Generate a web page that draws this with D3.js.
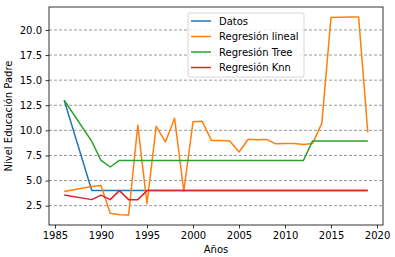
<!DOCTYPE html>
<html>
<head>
<meta charset="utf-8">
<script src="https://cdn.jsdelivr.net/npm/d3@7"></script>
<style>
  body { margin: 0; background: #fff; }
  svg { font-family: "DejaVu Sans", sans-serif; }
</style>
</head>
<body>
<script>
// años con dato
var years = [1986, 1989, 1990, 1991, 1992, 1993, 1994, 1995, 1996, 1997, 1998, 1999,
             2000, 2001, 2002, 2003, 2004, 2005, 2006, 2007, 2008, 2009, 2010, 2011,
             2012, 2013, 2014, 2015, 2016, 2017, 2018, 2019];

var datos = [13.0, 4.0, 4.0, 4.0, 4.0, 4.0, 4.0, 4.0, 4.0, 4.0, 4.0, 4.0,
             4.0, 4.0, 4.0, 4.0, 4.0, 4.0, 4.0, 4.0, 4.0, 4.0, 4.0, 4.0,
             4.0, 4.0, 4.0, 4.0, 4.0, 4.0, 4.0, 4.0];

var lineal = [3.9, 4.4, 4.5, 1.75, 1.6, 1.56, 10.5, 2.7, 10.4, 8.85, 11.2, 3.95,
              10.85, 10.9, 9.0, 9.0, 8.93, 7.85, 9.12, 9.06, 9.1, 8.66, 8.68, 8.7,
              8.6, 8.7, 10.7, 21.25, 21.27, 21.28, 21.3, 9.8];

var tree = [13.0, 8.9, 7.0, 6.35, 7.0, 7.0, 7.0, 7.0, 7.0, 7.0, 7.0, 7.0,
            7.0, 7.0, 7.0, 7.0, 7.0, 7.0, 7.0, 7.0, 7.0, 7.0, 7.0, 7.0,
            7.0, 8.95, 8.95, 8.95, 8.95, 8.95, 8.95, 8.95];

var knn = [3.55, 3.1, 3.55, 3.1, 4.0, 3.1, 3.1, 4.0, 4.0, 4.0, 4.0, 4.0,
           4.0, 4.0, 4.0, 4.0, 4.0, 4.0, 4.0, 4.0, 4.0, 4.0, 4.0, 4.0,
           4.0, 4.0, 4.0, 4.0, 4.0, 4.0, 4.0, 4.0];

var xTicks = [1985, 1990, 1995, 2000, 2005, 2010, 2015, 2020];
var yTicks = [2.5, 5.0, 7.5, 10.0, 12.5, 15.0, 17.5, 20.0];

var seriesNames = ["Datos", "Regresión lineal", "Regresión Tree", "Regresión Knn"];
var seriesData = [datos, lineal, tree, knn];
var colors = ["#1f77b4", "#ff7f0e", "#2ca02c", "#d62728"];

var width = 395, height = 257;
var plotL = 49, plotR = 383, plotT = 7, plotB = 225;

var svg = d3.select("body").append("svg")
  .attr("width", width)
  .attr("height", height);

// márgenes 5% como matplotlib
var xMin = d3.min(years), xMax = d3.max(years);
var xPad = (xMax - xMin) * 0.05;
var allVals = d3.merge(seriesData);
var yMin = d3.min(allVals), yMax = d3.max(allVals);
var yPad = (yMax - yMin) * 0.05;

var xScale = d3.scaleLinear()
  .domain([xMin - xPad, xMax + xPad])
  .range([plotL, plotR]);

var yScale = d3.scaleLinear()
  .domain([yMin - yPad, yMax + yPad])
  .range([plotB, plotT]);

// grilla horizontal
svg.append("g")
  .selectAll("line")
  .data(yTicks)
  .enter()
  .append("line")
  .attr("x1", plotL).attr("x2", plotR)
  .attr("y1", function(d){ return yScale(d); })
  .attr("y2", function(d){ return yScale(d); })
  .attr("stroke", "#808080")
  .attr("stroke-width", 0.8)
  .attr("stroke-dasharray", "3,2");

var line = d3.line()
  .x(function(d){ return xScale(d[0]); })
  .y(function(d){ return yScale(d[1]); });

seriesData.forEach(function(s, i){
  svg.append("path")
    .datum(years.map(function(y, j){ return [y, s[j]]; }))
    .attr("d", line)
    .attr("fill", "none")
    .attr("stroke", colors[i])
    .attr("stroke-width", 1.5)
    .attr("stroke-linejoin", "round");
});

// ejes
var xAxis = d3.axisBottom(xScale)
  .tickValues(xTicks)
  .tickFormat(d3.format("d"))
  .tickSize(3.5)
  .tickPadding(3.5);

var yAxis = d3.axisLeft(yScale)
  .tickValues(yTicks)
  .tickFormat(d3.format(".1f"))
  .tickSize(3.5)
  .tickPadding(3.5);

var gx = svg.append("g")
  .attr("transform", "translate(0," + plotB + ")")
  .call(xAxis);
var gy = svg.append("g")
  .attr("transform", "translate(" + plotL + ",0)")
  .call(yAxis);

[gx, gy].forEach(function(g){
  g.select(".domain").remove();
  g.selectAll("text").attr("font-size", 10).attr("fill", "#000")
    .attr("font-family", "DejaVu Sans");
  g.selectAll(".tick line").attr("stroke", "#000").attr("stroke-width", 0.8);
});

svg.append("rect")
  .attr("x", plotL).attr("y", plotT)
  .attr("width", plotR - plotL).attr("height", plotB - plotT)
  .attr("fill", "none")
  .attr("stroke", "#000")
  .attr("stroke-width", 0.8);

svg.append("text")
  .attr("x", (plotL + plotR) / 2)
  .attr("y", 253)
  .attr("text-anchor", "middle")
  .attr("font-size", 10)
  .text("Años");

svg.append("text")
  .attr("transform", "translate(12," + ((plotT + plotB) / 2) + ") rotate(-90)")
  .attr("text-anchor", "middle")
  .attr("font-size", 10)
  .text("Nivel Educación Padre");

// leyenda
var legend = svg.append("g").attr("transform", "translate(188,13)");
legend.append("rect")
  .attr("width", 116).attr("height", 64)
  .attr("rx", 2)
  .attr("fill", "#fff").attr("fill-opacity", 0.8)
  .attr("stroke", "#cccccc").attr("stroke-width", 0.8);

var items = legend.selectAll("g.item")
  .data(seriesNames)
  .enter()
  .append("g")
  .attr("class", "item")
  .attr("transform", function(d, i){ return "translate(0," + (8 + i * 15.5) + ")"; });

items.append("line")
  .attr("x1", 3).attr("x2", 23)
  .attr("stroke", function(d, i){ return colors[i]; })
  .attr("stroke-width", 1.5);

items.append("text")
  .attr("x", 31)
  .attr("y", 3.5)
  .attr("font-size", 10)
  .text(function(d){ return d; });
</script>
</body>
</html>
